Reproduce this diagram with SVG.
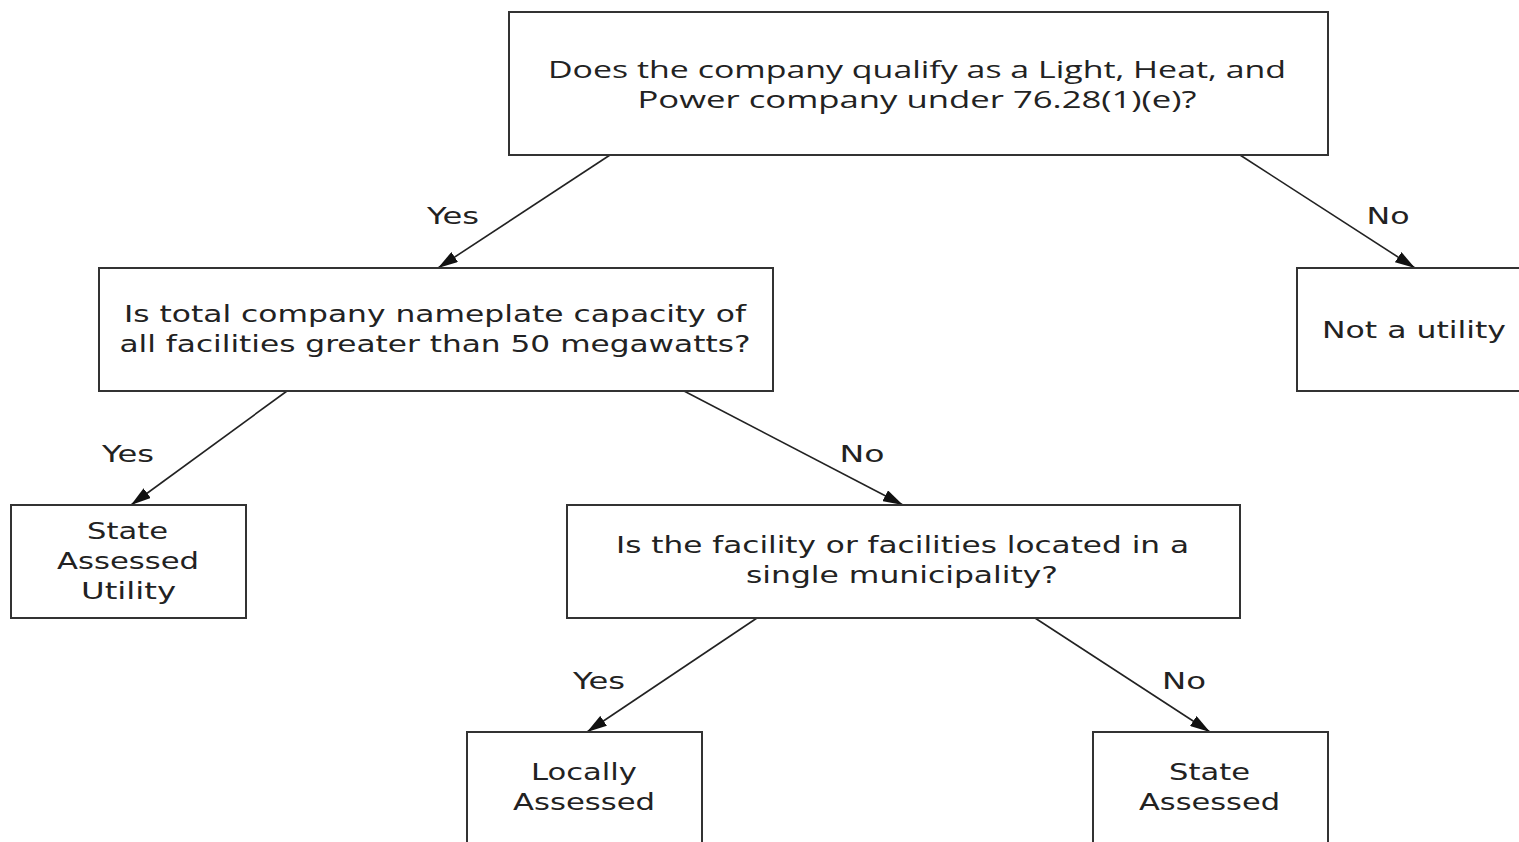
<svg xmlns="http://www.w3.org/2000/svg" width="1519" height="842" viewBox="0 0 1519 842">
<style>
.box{fill:#fff;stroke:#333;stroke-width:2}
.t{font-family:"Open Sans","Liberation Sans",sans-serif;font-size:24px;fill:#222;text-anchor:middle;dominant-baseline:central}
.g{font-family:"DejaVu Sans","Liberation Sans",sans-serif;font-size:23px;fill:#222;text-anchor:middle;dominant-baseline:central}
.c{stroke:#222;stroke-width:1.6;fill:none;marker-end:url(#ah)}
</style>
<defs>
<marker id="ah" viewBox="0 0 20 12" refX="20" refY="6" markerWidth="20" markerHeight="12" markerUnits="userSpaceOnUse" orient="auto">
<path d="M0,0 L20,6 L0,12 z" fill="#111"/>
</marker>
</defs>
<rect width="1519" height="842" fill="#fff"/>
<g id="connectors">
<line class="c" x1="610" y1="155" x2="438" y2="268"/>
<line class="c" x1="1240" y1="155" x2="1415" y2="268"/>
<line class="c" x1="287" y1="391" x2="131" y2="505"/>
<line class="c" x1="684" y1="391" x2="903" y2="505"/>
<line class="c" x1="757" y1="618" x2="587" y2="732"/>
<line class="c" x1="1035" y1="618" x2="1210" y2="732"/>
<text class="g" x="453" y="216" textLength="52" lengthAdjust="spacingAndGlyphs">Yes</text>
<text class="g" x="1388" y="216" textLength="43" lengthAdjust="spacingAndGlyphs">No</text>
<text class="g" x="128" y="454" textLength="52" lengthAdjust="spacingAndGlyphs">Yes</text>
<text class="g" x="862" y="454" textLength="45" lengthAdjust="spacingAndGlyphs">No</text>
<text class="g" x="599" y="681" textLength="52" lengthAdjust="spacingAndGlyphs">Yes</text>
<text class="g" x="1184" y="681" textLength="44" lengthAdjust="spacingAndGlyphs">No</text>
</g>
<g id="n1">
<rect class="box" x="509" y="12" width="819" height="143"/>
<text class="t" x="917" y="68" textLength="738" lengthAdjust="spacingAndGlyphs">Does the company qualify as a Light, Heat, and</text>
<text class="t" x="917" y="98" textLength="559" lengthAdjust="spacingAndGlyphs">Power company under 76.28(1)(e)?</text>
</g>
<g id="n2">
<rect class="box" x="99" y="268" width="674" height="123"/>
<text class="g" x="435" y="314" textLength="622" lengthAdjust="spacingAndGlyphs">Is total company nameplate capacity of</text>
<text class="g" x="435" y="344" textLength="631" lengthAdjust="spacingAndGlyphs">all facilities greater than 50 megawatts?</text>
</g>
<g id="n3">
<rect class="box" x="1297" y="268" width="240" height="123"/>
<text class="g" x="1414" y="330" textLength="184" lengthAdjust="spacingAndGlyphs">Not a utility</text>
</g>
<g id="n4">
<rect class="box" x="11" y="505" width="235" height="113"/>
<text class="g" x="127.5" y="531" textLength="81" lengthAdjust="spacingAndGlyphs">State</text>
<text class="g" x="128" y="561" textLength="142" lengthAdjust="spacingAndGlyphs">Assessed</text>
<text class="g" x="128.5" y="591" textLength="95" lengthAdjust="spacingAndGlyphs">Utility</text>
</g>
<g id="n5">
<rect class="box" x="567" y="505" width="673" height="113"/>
<text class="g" x="902.5" y="545" textLength="573" lengthAdjust="spacingAndGlyphs">Is the facility or facilities located in a</text>
<text class="g" x="902" y="575" textLength="312" lengthAdjust="spacingAndGlyphs">single municipality?</text>
</g>
<g id="n6">
<rect class="box" x="467" y="732" width="235" height="130"/>
<text class="g" x="584" y="772" textLength="106" lengthAdjust="spacingAndGlyphs">Locally</text>
<text class="g" x="584" y="802" textLength="142" lengthAdjust="spacingAndGlyphs">Assessed</text>
</g>
<g id="n7">
<rect class="box" x="1093" y="732" width="235" height="130"/>
<text class="g" x="1209.5" y="772" textLength="81" lengthAdjust="spacingAndGlyphs">State</text>
<text class="g" x="1209.5" y="802" textLength="141" lengthAdjust="spacingAndGlyphs">Assessed</text>
</g>
</svg>
